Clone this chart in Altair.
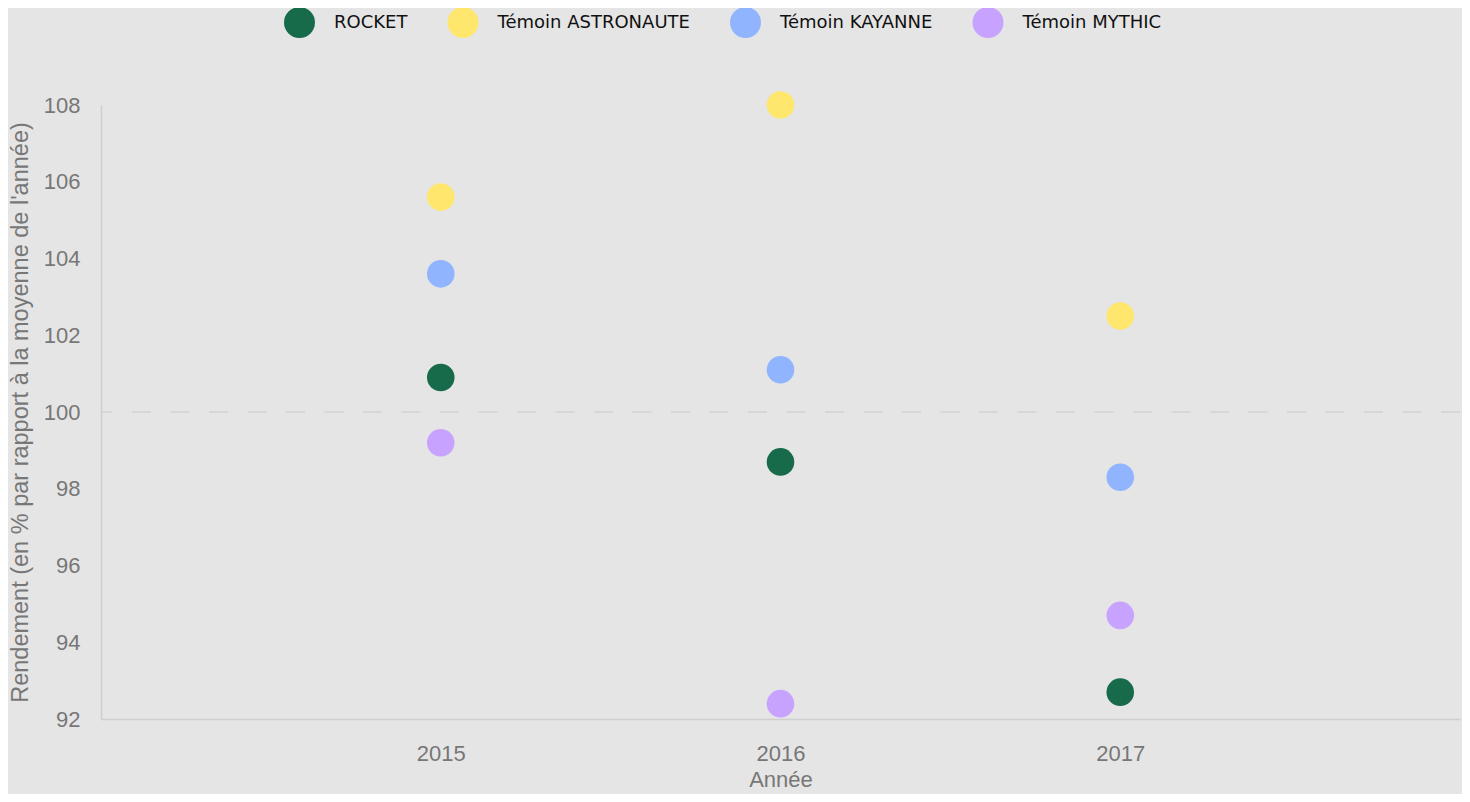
import altair as alt
import pandas as pd

years = ["2015", "2016", "2017"]
series = ["ROCKET", "Témoin ASTRONAUTE", "Témoin KAYANNE", "Témoin MYTHIC"]
colors = ["#176b4a", "#ffe66d", "#91b4ff", "#c7a3ff"]
rocket = [100.9, 98.7, 92.7]
astronaute = [105.6, 108.0, 102.5]
kayanne = [103.6, 101.1, 98.3]
mythic = [99.2, 92.4, 94.7]
y_ticks = [92, 94, 96, 98, 100, 102, 104, 106, 108]
ref_value = 100

rows = []
for name, vals in zip(series, [rocket, astronaute, kayanne, mythic]):
    for yr, v in zip(years, vals):
        rows.append({"Année": yr, "Série": name, "Rendement": v})
df = pd.DataFrame(rows)

label_font = "Liberation Sans"
grey = "#777777"

rule = alt.Chart(pd.DataFrame({"ref": [ref_value]})).mark_rule(
    color="#d2d2d2", strokeWidth=1.5, strokeDash=[19, 19.5]
).encode(y=alt.Y("ref:Q"))

points = alt.Chart(df).mark_circle(size=760, opacity=1).encode(
    x=alt.X("Année:O", scale=alt.Scale(type="point", padding=1, domain=years),
            axis=alt.Axis(title="Année", labelAngle=0, ticks=False, grid=False,
                          labelPadding=24, titlePadding=5, titleFontSize=22)),
    y=alt.Y("Rendement:Q", scale=alt.Scale(domain=[92, 108], nice=False, zero=False),
            axis=alt.Axis(title="Rendement (en % par rapport à la moyenne de l'année)",
                          values=y_ticks, ticks=False, grid=False,
                          labelPadding=21, titlePadding=11)),
    color=alt.Color("Série:N", scale=alt.Scale(domain=series, range=colors),
                    legend=alt.Legend(title=None, orient="none", direction="horizontal",
                                      legendX=183, legendY=-98,
                                      symbolSize=960, symbolType="circle",
                                      symbolStrokeWidth=0, symbolOpacity=1,
                                      labelFont="DejaVu Sans", labelFontSize=18,
                                      labelColor="#111111", labelOffset=19,
                                      labelLimit=0, columnPadding=39.5)),
)

chart = alt.layer(rule, points).properties(
    width=1359, height=614,
    autosize=alt.AutoSizeParams(type="none"),
    padding={"left": 93, "top": 97, "right": 2, "bottom": 75},
    background="#e5e5e5",
).configure_view(stroke=None, fill="#e5e5e5").configure_axis(
    domainColor="#cfcfcf", domainWidth=1.5,
    labelFont=label_font, labelFontSize=22, labelColor=grey,
    titleFont=label_font, titleFontSize=23.5, titleColor=grey, titleFontWeight="normal",
)

chart.save("out.html", embed_options={"renderer": "svg", "actions": False})
